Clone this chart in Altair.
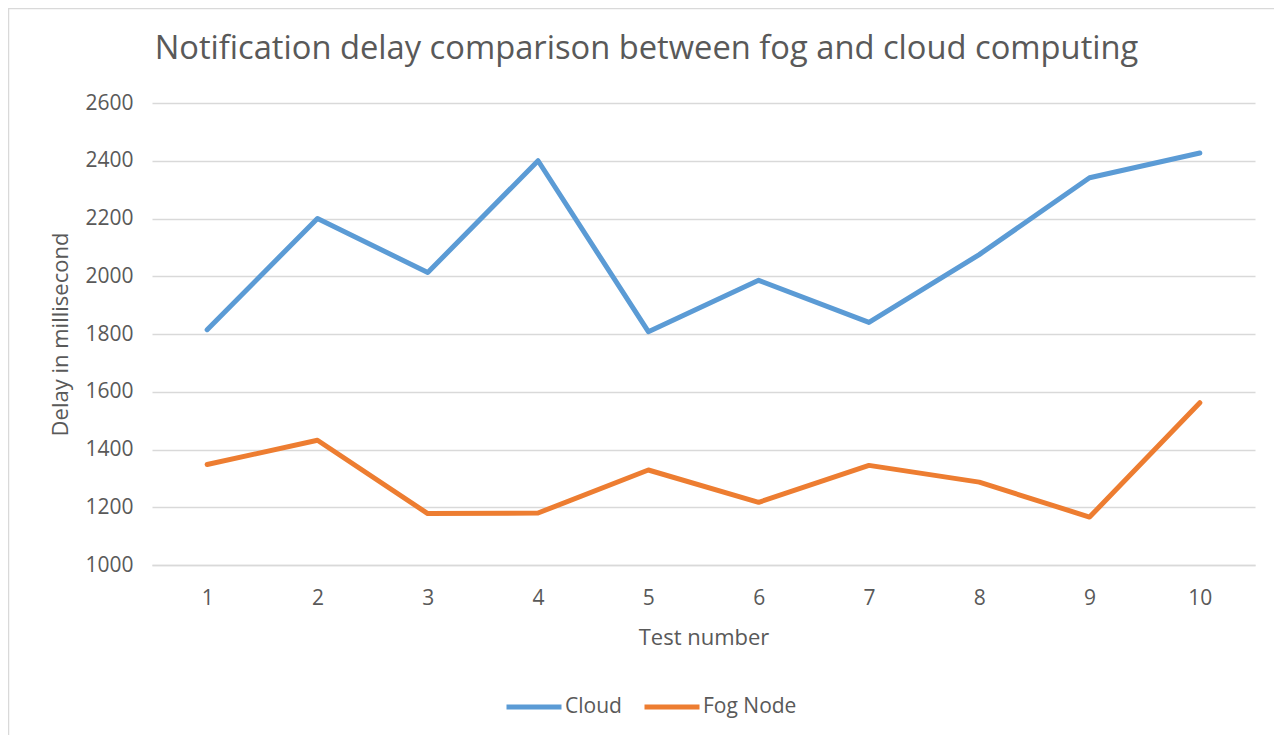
import altair as alt
import pandas as pd

# ---- data ----
tests = [1, 2, 3, 4, 5, 6, 7, 8, 9, 10]
cloud = [1815, 2200, 2013, 2400, 1808, 1986, 1840, 2075, 2341, 2427]
fog_node = [1348, 1432, 1178, 1180, 1329, 1217, 1345, 1287, 1166, 1562]
series_names = ["Cloud", "Fog Node"]
series_colors = ["#5B9BD5", "#ED7D31"]
y_ticks = [1000, 1200, 1400, 1600, 1800, 2000, 2200, 2400, 2600]

rows = []
for t, v in zip(tests, cloud):
    rows.append({"test": t, "delay": v, "series": "Cloud"})
for t, v in zip(tests, fog_node):
    rows.append({"test": t, "delay": v, "series": "Fog Node"})
df = pd.DataFrame(rows)

FONT = "Open Sans"
TXT = "#595959"
GRID = "#d9d9d9"
W, H = 1103, 462

lines = alt.Chart(df).mark_line(strokeWidth=5, strokeCap="round", strokeJoin="round").encode(
    x=alt.X("test:O", sort=tests,
            scale=alt.Scale(type="point", padding=0.5),
            axis=alt.Axis(title="Test number", labelAngle=0, ticks=False, grid=False,
                          domainColor=GRID, domainWidth=1.5, labelPadding=22,
                          titlePadding=19)),
    y=alt.Y("delay:Q",
            scale=alt.Scale(domain=[1000, 2600], nice=False, zero=False),
            axis=alt.Axis(title="Delay in millisecond", values=y_ticks, format="d",
                          domain=False, ticks=False, grid=True, gridColor=GRID,
                          gridWidth=1.3, labelPadding=19, titlePadding=12)),
    color=alt.Color("series:N",
                    scale=alt.Scale(domain=series_names, range=series_colors),
                    legend=alt.Legend(title=None, orient="none", direction="horizontal",
                                      legendX=352, legendY=574,
                                      symbolType="stroke", symbolSize=3025,
                                      symbolStrokeWidth=5, labelFontSize=21,
                                      labelColor=TXT, labelFont=FONT,
                                      labelOffset=1, columnPadding=12)),
)

border = alt.Chart(alt.Data(values=[{}])).mark_rect(
    fill=None, stroke=GRID, strokeWidth=1.5
).encode(
    x=alt.value(-143.5), x2=alt.value(W + 300),
    y=alt.value(-94.5), y2=alt.value(H + 300),
)

chart = alt.layer(border, lines).properties(
    width=W, height=H,
    title=alt.Title("Notification delay comparison between fog and cloud computing",
                    fontSize=32.7, font=FONT, fontWeight="normal", color=TXT,
                    anchor="middle", frame="group", dx=-57, offset=-58),
    autosize=alt.AutoSizeParams(type="none"),
    padding={"left": 144, "top": 95, "right": 19, "bottom": 170},
).configure_view(stroke=None).configure_axis(
    labelFont=FONT, titleFont=FONT, labelFontSize=21, titleFontSize=22,
    labelColor=TXT, titleColor=TXT, titleFontWeight="normal",
)

chart.save("out.html", embed_options={"renderer": "svg", "actions": False})
